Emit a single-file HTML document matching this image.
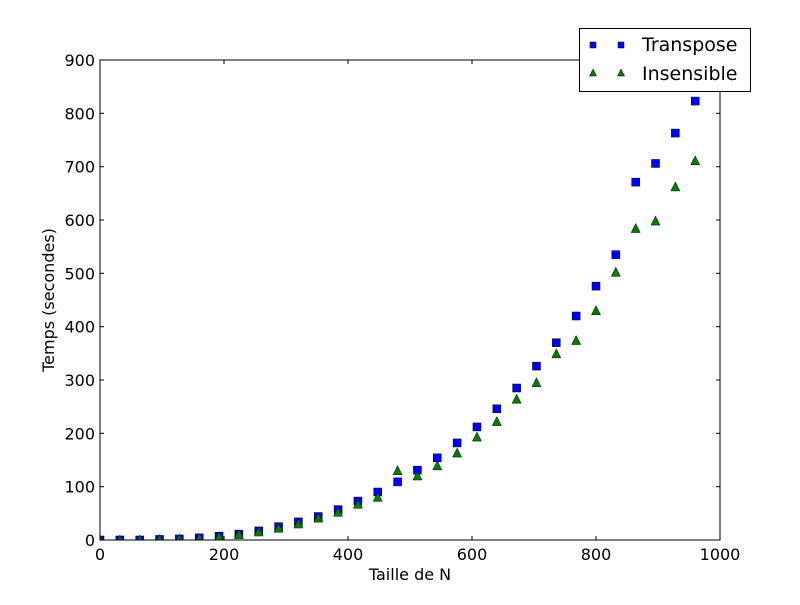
<!DOCTYPE html>
<html><head><meta charset="utf-8"><style>
body{margin:0;background:#fff;}
svg text{font-family:"DejaVu Sans","Liberation Sans",sans-serif;}
</style></head><body>
<svg id="chart" width="800" height="600" xmlns="http://www.w3.org/2000/svg">
<defs><clipPath id="clip"><rect x="100" y="60" width="620" height="480"/></clipPath></defs>
<rect width="800" height="600" fill="#fff"/>
<g id="plot"></g>
</svg>
<script>
const xValues=[0,32,64,96,128,160,192,224,256,288,320,352,384,416,448,480,512,544,576,608,640,672,704,736,768,800,832,864,896,928,960];
const transposeValues=[0,0,0,1,2,4,7,11,17,25,34,44,57,73,90,109,131,154,182,212,246,285,326,370,420,476,535,671,706,763,823];
const insensibleValues=[0,0,0,1,2,3,6,10,15,22,30,41,52,67,80,130,120,139,163,193,222,264,295,349,374,430,502,584,598,662,711];
const xTicks=[0,200,400,600,800,1000];
const yTicks=[0,100,200,300,400,500,600,700,800,900];
const L=100,R=720,T=60,B=540;
const sx=v=>L+(v-0)/1000*(R-L);
const sy=v=>B-(v-0)/900*(B-T);
const NS="http://www.w3.org/2000/svg";
const g=document.getElementById('plot');
function mk(tag,attrs,parent){const e=document.createElementNS(NS,tag);for(const k in attrs)e.setAttribute(k,attrs[k]);(parent||g).appendChild(e);return e;}
const marks=mk('g',{'clip-path':'url(#clip)'});


const frame=mk('rect',{x:L,y:T,width:R-L,height:B-T,fill:'none',stroke:'#000','stroke-width':1});


xTicks.forEach(t=>{
 const x=sx(t);
 mk('line',{x1:x,y1:B,x2:x,y2:B-4,stroke:'#000'});
 mk('line',{x1:x,y1:T,x2:x,y2:T+4,stroke:'#000'});
 const tx=mk('text',{x:x,y:B+20,'text-anchor':'middle','font-size':16});
 tx.textContent=t;
 
 
});
yTicks.forEach(t=>{
 const y=sy(t);
 mk('line',{x1:L,y1:y,x2:L+4,y2:y,stroke:'#000'});
 mk('line',{x1:R,y1:y,x2:R-4,y2:y,stroke:'#000'});
 const tx=mk('text',{x:L-5,y:y+6,'text-anchor':'end','font-size':16});
 tx.textContent=t;
 
 
});
const xt=mk('text',{x:(L+R)/2,y:580,'text-anchor':'middle','font-size':16});
xt.textContent='Taille de N';


const yt=mk('text',{x:0,y:0,'text-anchor':'middle','font-size':16,transform:'translate(54,300) rotate(-90)'});
yt.textContent='Temps (secondes)';


function square(cx,cy,p,h){h=h||4;return mk('rect',{x:cx-h,y:cy-h,width:2*h,height:2*h,fill:'#0000ff',stroke:'#000','stroke-width':0.5},p);}
function tri(cx,cy,p,h){h=h||4.5;return mk('polygon',{points:`${cx},${cy-h-0.5} ${cx-h},${cy+h-0.5} ${cx+h},${cy+h-0.5}`,fill:'#008000',stroke:'#000','stroke-width':0.5},p);}
xValues.forEach((xv,i)=>{
 const s=square(sx(xv),sy(transposeValues[i]),marks);
 
 
});
xValues.forEach((xv,i)=>{
 const t=tri(sx(xv),sy(insensibleValues[i]),marks);
 
 
});
const lg=mk('g',{});


mk('rect',{x:579.5,y:28.5,width:171,height:63,fill:'#fff',stroke:'#000'},lg);
square(593,45,lg,3);square(621,45,lg,3);
tri(593,73,lg,3.5);tri(621,73,lg,3.5);
const l1=mk('text',{x:642,y:51,'font-size':19},lg);l1.textContent='Transpose';


const l2=mk('text',{x:642,y:80,'font-size':19},lg);l2.textContent='Insensible';


</script>
</body></html>
